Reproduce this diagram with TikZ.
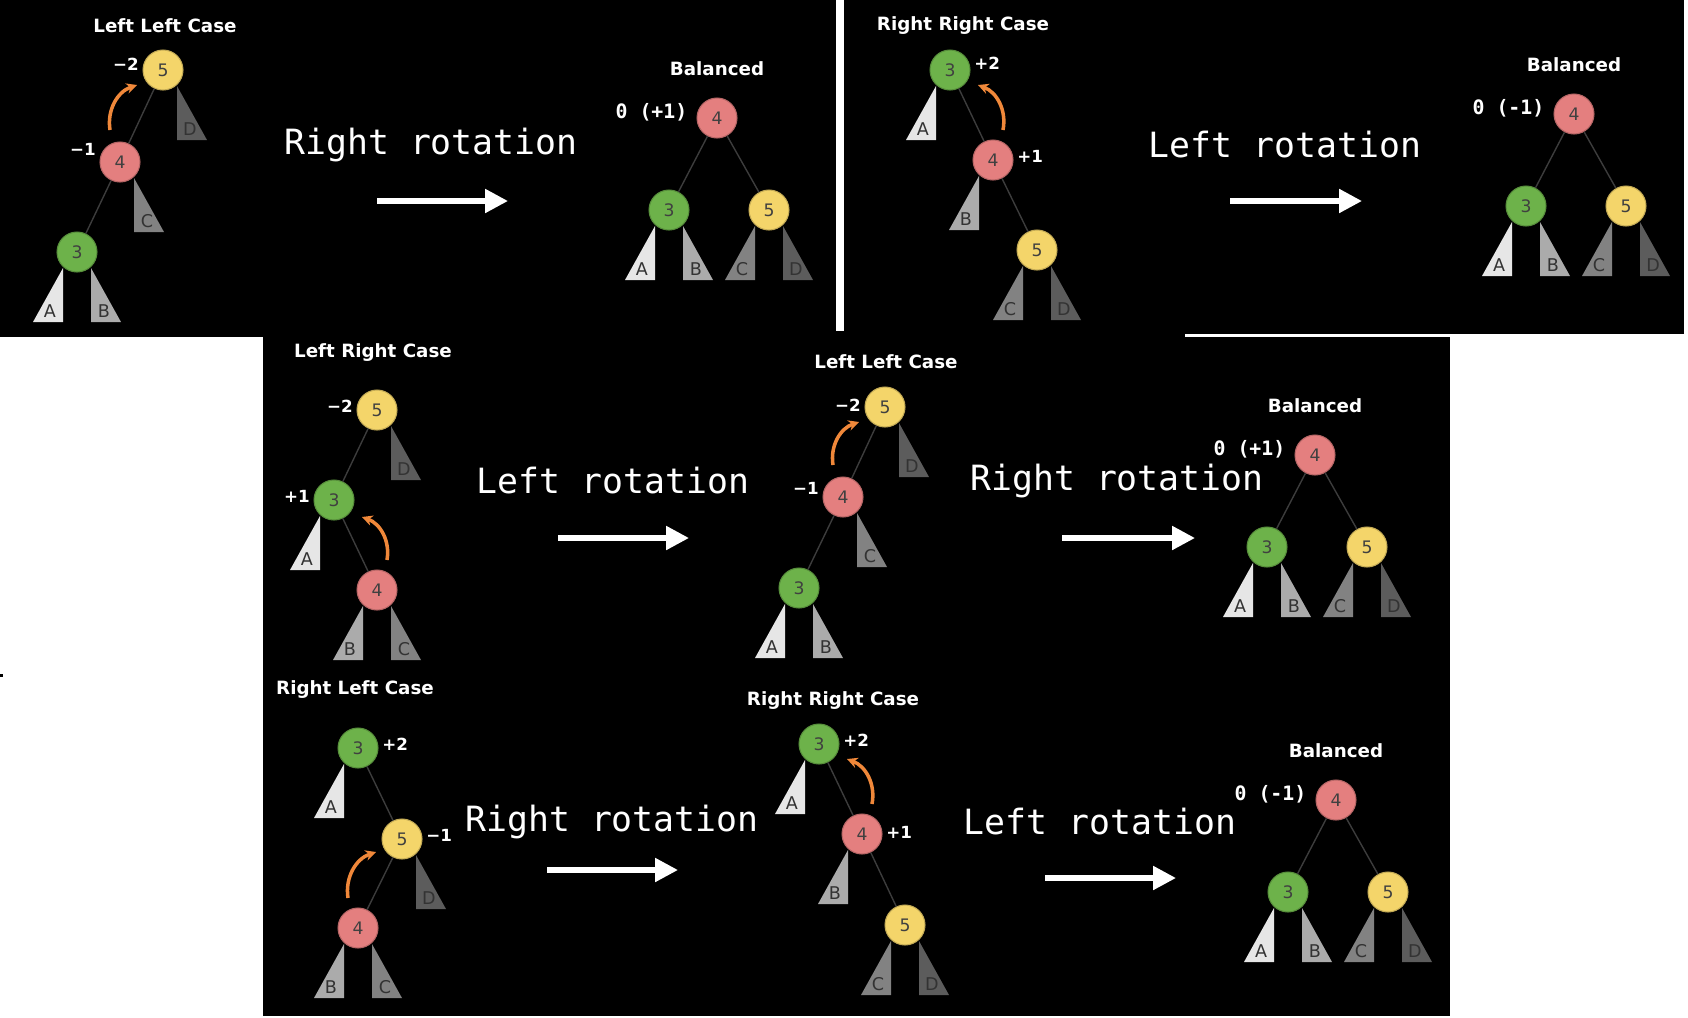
\documentclass[tikz,border=0pt]{standalone}
\usepackage{fontspec}
\setmainfont{DejaVu Sans}
\setmonofont{DejaVu Sans Mono}
\usepackage{xcolor}
\definecolor{avlyellow}{HTML}{F4D56A}
\definecolor{avlpink}{HTML}{E47F7F}
\definecolor{avlgreen}{HTML}{6DB24A}
\definecolor{avlorange}{HTML}{F0883A}
\definecolor{avledge}{HTML}{3C3C3C}
\definecolor{leafa}{HTML}{E6E6E6}
\definecolor{leafb}{HTML}{ABABAB}
\definecolor{leafc}{HTML}{828282}
\definecolor{leafd}{HTML}{5C5C5C}
\usepackage{tikz}
\usetikzlibrary{arrows.meta,positioning,calc}

% subtree triangle: node, side (-1 left / 1 right), fill, letter
\newcommand{\subtree}[4]{%
  \fill[#3] ($(#1)+(#2*14,16)$) -- ($(#1)+(#2*14,70)$) -- ($(#1)+(#2*44,70)$) -- cycle;
  \node[leaflbl] (#1#4) at ($(#1)+(#2*27,59)$) {#4};}

\begin{document}
\begin{tikzpicture}[
  x=0.02cm, y=-0.02cm,
  avl/.style={circle,minimum size=0.8cm,inner sep=0pt,line width=0.6pt,
    font=\fontsize{9.8}{11}\selectfont,text=black!75},
  yel/.style={avl,fill=avlyellow,draw=avlyellow!80!black},
  pnk/.style={avl,fill=avlpink,draw=avlpink!80!black},
  grn/.style={avl,fill=avlgreen,draw=avlgreen!80!black},
  leaflbl/.style={inner sep=0pt,font=\fontsize{10}{11}\selectfont,text=black!80},
  tedge/.style={draw=avledge,line width=0.8pt},
  casetitle/.style={text=white,font=\fontsize{10.4}{12}\selectfont\bfseries},
  bfac/.style={text=white,inner sep=0pt,font=\fontsize{9.5}{11}\selectfont\bfseries},
  balfac/.style={text=white,inner sep=0pt,font=\ttfamily\bfseries\fontsize{11.3}{13}\selectfont},
  rotlbl/.style={text=white,font=\ttfamily\fontsize{19.8}{22}\selectfont},
  bigarr/.style={-{Triangle[length=13pt,width=13pt]},white,line width=3pt},
  rot/.style={-{Stealth[length=6pt,width=6pt]},avlorange,line width=2pt}
]
\useasboundingbox (0,0) rectangle (1688,1018);
% panels
\fill[white] (0,0) rectangle (1688,1018);
\fill[black] (0,0) rectangle (836,337);
\fill[black] (844,0) rectangle (1684,334);
\fill[black] (263,331) rectangle (1185,338);
\fill[black] (263,337) rectangle (1450,1016);
\fill[black] (0,674) rectangle (3,677);

% Left Left Case (top)
\node[casetitle] (p1-t) at (165,26) {Left Left Case};
\node[yel] (p1-5) at (163,70) {5};
\node[pnk] (p1-4) at (120,162) {4};
\node[grn] (p1-3) at (77,252) {3};
\draw[tedge] (p1-5) -- (p1-4);
\draw[tedge] (p1-4) -- (p1-3);
\subtree{p1-5}{1}{leafd}{D}
\subtree{p1-4}{1}{leafc}{C}
\subtree{p1-3}{-1}{leafa}{A}
\subtree{p1-3}{1}{leafb}{B}
\node[bfac,left=2pt of p1-5,yshift=3pt] (p1-f5) {−2};
\node[bfac,left=2pt of p1-4,yshift=7pt] (p1-f4) {−1};
\draw[rot] ($(p1-4)+(-10,-32)$) to[bend left=40] ($(p1-5)+(-26,15)$);
\node[rotlbl] (p1-r) at (431,145) {Right rotation};
\coordinate (p1-a) at (377,201);
\coordinate (p1-b) at (508,201);
\draw[bigarr] (p1-a) -- (p1-b);

% Right Right Case (top)
\node[casetitle] (p2-t) at (963,26) {Right Right Case};
\node[grn] (p2-3) at (950,70) {3};
\node[pnk] (p2-4) at (993,160) {4};
\node[yel] (p2-5) at (1037,250) {5};
\draw[tedge] (p2-3) -- (p2-4);
\draw[tedge] (p2-4) -- (p2-5);
\subtree{p2-3}{-1}{leafa}{A}
\subtree{p2-4}{-1}{leafb}{B}
\subtree{p2-5}{-1}{leafc}{C}
\subtree{p2-5}{1}{leafd}{D}
\node[bfac,right=2pt of p2-3,yshift=4pt] (p2-f3) {+2};
\node[bfac,right=2pt of p2-4,yshift=2pt] (p2-f4) {+1};
\draw[rot] ($(p2-4)+(10,-30)$) to[bend right=40] ($(p2-3)+(28,15)$);
\node[rotlbl] (p2-r) at (1285,145) {Left rotation};
\coordinate (p2-a) at (1230,201);
\coordinate (p2-b) at (1362,201);
\draw[bigarr] (p2-a) -- (p2-b);

% Left Right Case
\node[casetitle] (p3-t) at (373,353) {Left Right Case};
\node[yel] (p3-5) at (377,410) {5};
\node[grn] (p3-3) at (334,500) {3};
\node[pnk] (p3-4) at (377,590) {4};
\draw[tedge] (p3-5) -- (p3-3);
\draw[tedge] (p3-3) -- (p3-4);
\subtree{p3-5}{1}{leafd}{D}
\subtree{p3-3}{-1}{leafa}{A}
\subtree{p3-4}{-1}{leafb}{B}
\subtree{p3-4}{1}{leafc}{C}
\node[bfac,left=2pt of p3-5,yshift=2pt] (p3-f5) {−2};
\node[bfac,left=2pt of p3-3,yshift=2pt] (p3-f3) {+1};
\draw[rot] ($(p3-4)+(10,-30)$) to[bend right=40] ($(p3-3)+(28,17)$);
\node[rotlbl] (p3-r) at (613,481) {Left rotation};
\coordinate (p3-a) at (558,538);
\coordinate (p3-b) at (689,538);
\draw[bigarr] (p3-a) -- (p3-b);

% Left Left Case (middle)
\node[casetitle] (p4-t) at (886,362) {Left Left Case};
\node[yel] (p4-5) at (885,407) {5};
\node[pnk] (p4-4) at (843,497) {4};
\node[grn] (p4-3) at (799,588) {3};
\draw[tedge] (p4-5) -- (p4-4);
\draw[tedge] (p4-4) -- (p4-3);
\subtree{p4-5}{1}{leafd}{D}
\subtree{p4-4}{1}{leafc}{C}
\subtree{p4-3}{-1}{leafa}{A}
\subtree{p4-3}{1}{leafb}{B}
\node[bfac,left=2pt of p4-5,yshift=1pt] (p4-f5) {−2};
\node[bfac,left=2pt of p4-4,yshift=5pt] (p4-f4) {−1};
\draw[rot] ($(p4-4)+(-10,-32)$) to[bend left=40] ($(p4-5)+(-26,15)$);
\node[rotlbl] (p4-r) at (1117,481) {Right rotation};
\coordinate (p4-a) at (1062,538);
\coordinate (p4-b) at (1195,538);
\draw[bigarr] (p4-a) -- (p4-b);

% Right Left Case
\node[casetitle] (p5-t) at (355,690) {Right Left Case};
\node[grn] (p5-3) at (358,748) {3};
\node[yel] (p5-5) at (402,839) {5};
\node[pnk] (p5-4) at (358,928) {4};
\draw[tedge] (p5-3) -- (p5-5);
\draw[tedge] (p5-5) -- (p5-4);
\subtree{p5-3}{-1}{leafa}{A}
\subtree{p5-5}{1}{leafd}{D}
\subtree{p5-4}{-1}{leafb}{B}
\subtree{p5-4}{1}{leafc}{C}
\node[bfac,right=2pt of p5-3,yshift=2pt] (p5-f3) {+2};
\node[bfac,right=2pt of p5-5,yshift=2pt] (p5-f5) {−1};
\draw[rot] ($(p5-4)+(-10,-30)$) to[bend left=40] ($(p5-5)+(-26,13)$);
\node[rotlbl] (p5-r) at (612,822) {Right rotation};
\coordinate (p5-a) at (547,870);
\coordinate (p5-b) at (678,870);
\draw[bigarr] (p5-a) -- (p5-b);

% Right Right Case (bottom)
\node[casetitle] (p6-t) at (833,701) {Right Right Case};
\node[grn] (p6-3) at (819,744) {3};
\node[pnk] (p6-4) at (862,834) {4};
\node[yel] (p6-5) at (905,925) {5};
\draw[tedge] (p6-3) -- (p6-4);
\draw[tedge] (p6-4) -- (p6-5);
\subtree{p6-3}{-1}{leafa}{A}
\subtree{p6-4}{-1}{leafb}{B}
\subtree{p6-5}{-1}{leafc}{C}
\subtree{p6-5}{1}{leafd}{D}
\node[bfac,right=2pt of p6-3,yshift=2pt] (p6-f3) {+2};
\node[bfac,right=2pt of p6-4,yshift=1pt] (p6-f4) {+1};
\draw[rot] ($(p6-4)+(10,-30)$) to[bend right=40] ($(p6-3)+(28,15)$);
\node[rotlbl] (p6-r) at (1100,822) {Left rotation};
\coordinate (p6-a) at (1045,878);
\coordinate (p6-b) at (1176,878);
\draw[bigarr] (p6-a) -- (p6-b);

% Balanced results
\foreach \bx/\by/\bf/\bn in {717/118/{0 (+1)}/ba, 1574/114/{0 (-1)}/bb,
    1315/455/{0 (+1)}/bc, 1336/800/{0 (-1)}/bd} {
  \node[casetitle] (\bn-t) at (\bx,\by-49) {Balanced};
  \node[pnk] (\bn-4) at (\bx,\by) {4};
  \node[grn] (\bn-3) at (\bx-48,\by+92) {3};
  \node[yel] (\bn-5) at (\bx+52,\by+92) {5};
  \draw[tedge] (\bn-4) -- (\bn-3);
  \draw[tedge] (\bn-4) -- (\bn-5);
  \subtree{\bn-3}{-1}{leafa}{A}
  \subtree{\bn-3}{1}{leafb}{B}
  \subtree{\bn-5}{-1}{leafc}{C}
  \subtree{\bn-5}{1}{leafd}{D}
  \node[balfac,left=5pt of \bn-4,yshift=3pt] (\bn-f) {\bf};
}
\end{tikzpicture}
\end{document}
